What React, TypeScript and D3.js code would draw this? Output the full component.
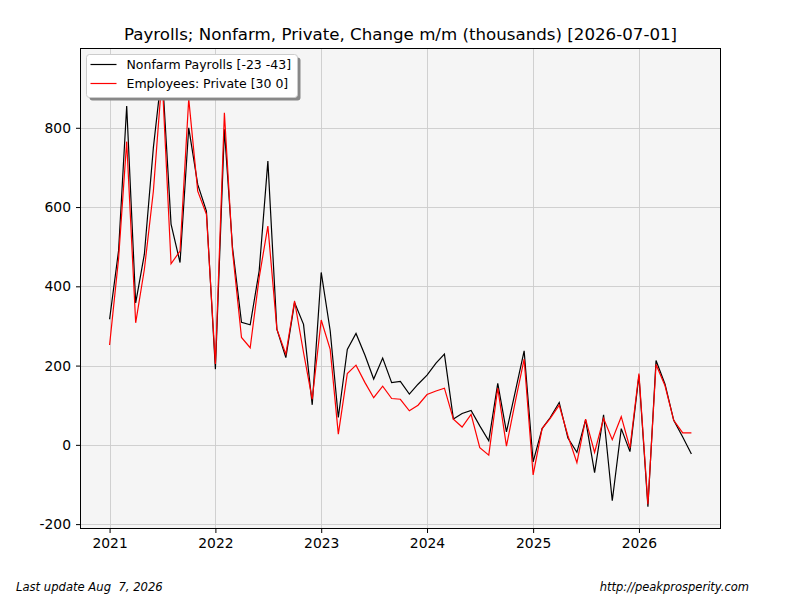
import React, { useEffect, useRef } from "react";
import * as d3 from "d3";

// monthly, 2021-01 .. 2026-07
const startMonth = new Date(2021, 0, 1);

const nonfarm: number[] = [
  317, 490, 855, 358, 481, 750, 945, 557, 460, 800, 657, 590,
  191, 796, 498, 309, 303, 439, 716, 292, 220, 359, 304, 101,
  435, 288, 69, 241, 281, 226, 166, 219, 157, 160, 128, 153,
  176, 206, 229, 65, 79, 87, 48, 10, 155, 33, 136, 237,
  -43, 41, 69, 107, 17, -19, 63, -70, 76, -141, 41, -17,
  175, -156, 213, 153, 62, 20, -23,
];

const privateEmp: number[] = [
  252, 470, 765, 308, 443, 640, 930, 457, 489, 873, 640, 582,
  204, 838, 489, 271, 245, 422, 552, 292, 229, 363, 233, 115,
  315, 241, 27, 180, 201, 157, 119, 148, 117, 115, 86, 100,
  127, 136, 143, 65, 45, 77, -7, -26, 143, -3, 111, 216,
  -76, 41, 67, 100, 23, -45, 65, -19, 67, 13, 71, -8,
  180, -150, 203, 149, 62, 30, 30,
];

const seriesNames = ["Nonfarm Payrolls [-23 -43]", "Employees: Private [30 0]"];
const seriesColors = ["black", "red"];
const yTicks = [-200, 0, 200, 400, 600, 800];

const title = "Payrolls; Nonfarm, Private, Change m/m (thousands) [2026-07-01]";
const footLeft = "Last update Aug  7, 2026";
const footRight = "http://peakprosperity.com";

const W = 800;
const H = 600;
const m = { left: 80.5, right: 720.5, top: 48.5, bottom: 528.5 };
const font = "DejaVu Sans, sans-serif";
const tickFont = 13.89;

const App: React.FC = () => {
  const svgRef = useRef<SVGSVGElement>(null);

  useEffect(() => {
    if (!svgRef.current) return;
    const svg = d3.select(svgRef.current);
    svg.selectAll("*").remove();

    const dates = nonfarm.map((_, i) => d3.timeMonth.offset(startMonth, i));
    const t0 = +dates[0];
    const t1 = +dates[dates.length - 1];
    const pad = (t1 - t0) * 0.05;

    const x = d3
      .scaleTime()
      .domain([new Date(t0 - pad), new Date(t1 + pad)])
      .range([m.left, m.right]);

    const all = nonfarm.concat(privateEmp);
    const lo = d3.min(all) as number;
    const hi = d3.max(all) as number;
    const ypad = (hi - lo) * 0.05;
    const y = d3
      .scaleLinear()
      .domain([lo - ypad, hi + ypad])
      .range([m.bottom, m.top]);

    svg.append("rect").attr("width", W).attr("height", H).attr("fill", "white");

    svg
      .append("rect")
      .attr("x", m.left)
      .attr("y", m.top)
      .attr("width", m.right - m.left)
      .attr("height", m.bottom - m.top)
      .attr("fill", "#f5f5f5");

    const yearTicks = x.ticks(d3.timeYear.every(1) as d3.TimeInterval);

    // grid
    const grid = svg.append("g").attr("stroke", "#cccccc").attr("stroke-width", 0.9);
    yearTicks.forEach((d) => {
      const px = Math.round(x(d)) + 0.5;
      grid.append("line").attr("x1", px).attr("x2", px).attr("y1", m.top).attr("y2", m.bottom);
    });
    yTicks.forEach((v) => {
      const py = Math.round(y(v)) + 0.5;
      grid.append("line").attr("x1", m.left).attr("x2", m.right).attr("y1", py).attr("y2", py);
    });

    svg
      .append("clipPath")
      .attr("id", "plotclip")
      .append("rect")
      .attr("x", m.left)
      .attr("y", m.top)
      .attr("width", m.right - m.left)
      .attr("height", m.bottom - m.top);

    // lines
    [nonfarm, privateEmp].forEach((vals, k) => {
      const line = d3
        .line<number>()
        .x((_, i) => x(dates[i]))
        .y((v) => y(v));
      svg
        .append("path")
        .datum(vals)
        .attr("clip-path", "url(#plotclip)")
        .attr("fill", "none")
        .attr("stroke", seriesColors[k])
        .attr("stroke-width", 1.2)
        .attr("d", line);
    });

    // frame
    svg
      .append("rect")
      .attr("x", m.left)
      .attr("y", m.top)
      .attr("width", m.right - m.left)
      .attr("height", m.bottom - m.top)
      .attr("fill", "none")
      .attr("stroke", "black")
      .attr("stroke-width", 1);

    // axes
    const xAxis = svg
      .append("g")
      .attr("transform", `translate(0,${m.bottom})`)
      .call(
        d3
          .axisBottom(x)
          .tickValues(yearTicks)
          .tickFormat((d) => d3.timeFormat("%Y")(d as Date))
          .tickSize(4.5)
          .tickPadding(5)
      );
    const yAxis = svg
      .append("g")
      .attr("transform", `translate(${m.left},0)`)
      .call(
        d3
          .axisLeft(y)
          .tickValues(yTicks)
          .tickFormat((d) => String(d))
          .tickSize(4.5)
          .tickPadding(5)
      );
    [xAxis, yAxis].forEach((g) => {
      g.select(".domain").remove();
      g.selectAll("text").attr("font-family", font).attr("font-size", tickFont).attr("fill", "black");
      g.selectAll("line").attr("stroke", "black");
    });

    // title
    svg
      .append("text")
      .attr("x", (m.left + m.right) / 2)
      .attr("y", 40)
      .attr("text-anchor", "middle")
      .attr("font-family", font)
      .attr("font-size", 16.67)
      .text(title);

    // legend
    const lg = svg.append("g").attr("transform", "translate(86.5,54.5)");
    lg.append("rect")
      .attr("x", 3)
      .attr("y", 3)
      .attr("width", 211)
      .attr("height", 43)
      .attr("rx", 3)
      .attr("fill", "#888888");
    lg.append("rect")
      .attr("width", 211)
      .attr("height", 43)
      .attr("rx", 3)
      .attr("fill", "white")
      .attr("stroke", "#cccccc");
    seriesNames.forEach((name, k) => {
      const cy = 10 + k * 19;
      lg.append("line")
        .attr("x1", 4)
        .attr("x2", 30)
        .attr("y1", cy)
        .attr("y2", cy)
        .attr("stroke", seriesColors[k])
        .attr("stroke-width", 1.2);
      lg.append("text")
        .attr("x", 40)
        .attr("y", cy + 4.5)
        .attr("font-family", font)
        .attr("font-size", 12.5)
        .text(name);
    });

    // footer
    svg
      .append("text")
      .attr("x", 16)
      .attr("y", 591)
      .attr("font-family", font)
      .attr("font-size", 11.6)
      .attr("font-style", "italic")
      .style("white-space", "pre")
      .text(footLeft);
    svg
      .append("text")
      .attr("x", 749)
      .attr("y", 591)
      .attr("text-anchor", "end")
      .attr("font-family", font)
      .attr("font-size", 11.5)
      .attr("font-style", "italic")
      .text(footRight);
  }, []);

  return (
    <svg
      ref={svgRef}
      width={W}
      height={H}
      style={{ position: "absolute", left: 0, top: 0, display: "block" }}
    />
  );
};

export default App;
